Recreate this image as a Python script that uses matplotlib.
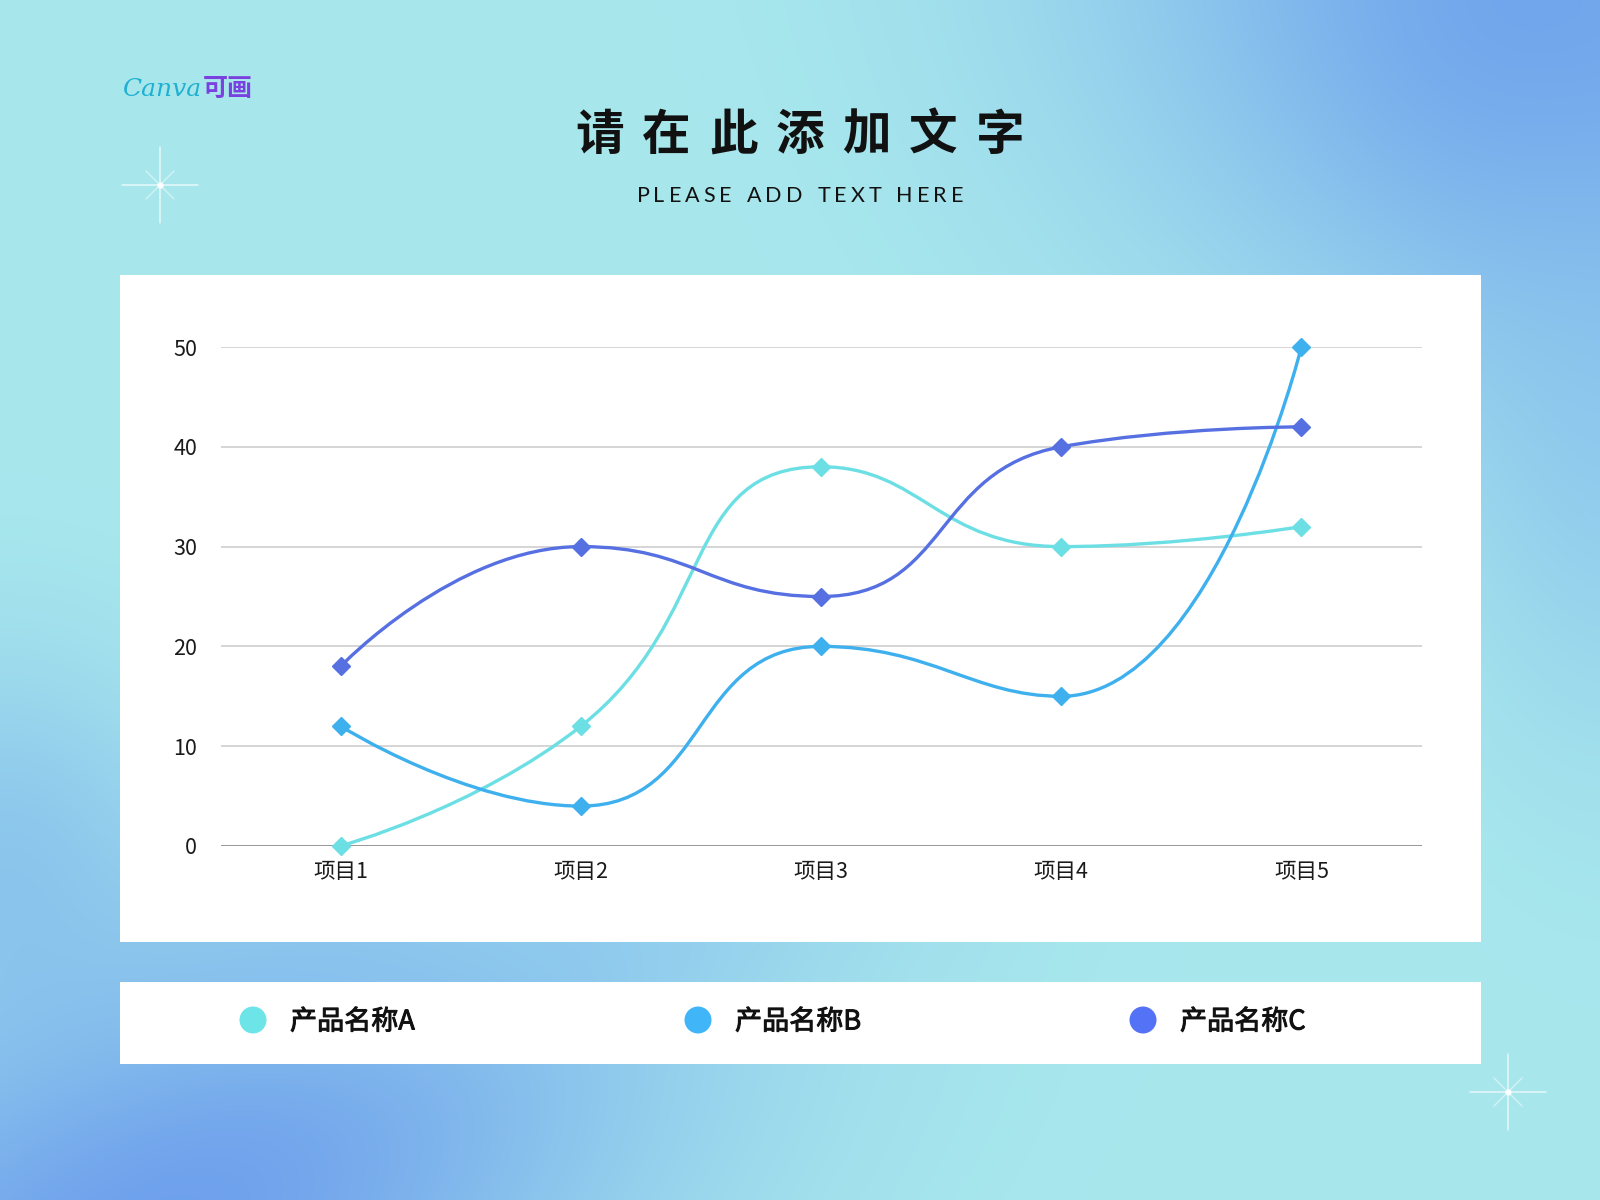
import numpy as np
import matplotlib
matplotlib.use("Agg")
import matplotlib.pyplot as plt
import matplotlib.patheffects as pe
from matplotlib.path import Path
from matplotlib.patches import PathPatch, Rectangle, Circle

# ---------------- data ----------------
categories = ["项目1", "项目2", "项目3", "项目4", "项目5"]
series_names = ["产品名称A", "产品名称B", "产品名称C"]
values_a = [0, 12, 38, 30, 32]
values_b = [12, 4, 20, 15, 50]
values_c = [18, 30, 25, 40, 42]
y_ticks = [0, 10, 20, 30, 40, 50]
title_text = "请在此添加文字"
subtitle_text = "PLEASE ADD TEXT HERE"

line_colors = ["#6cdfe4", "#3eb0ee", "#5670e2"]
legend_colors = ["#6ce4e8", "#40b6f8", "#5472f6"]

CJK = ["Noto Sans CJK SC", "DejaVu Sans"]
plt.rcParams["font.family"] = CJK

W, H = 1600, 1200
fig = plt.figure(figsize=(16, 12), dpi=100)


def fx(px):
    return px / W


def fy(py):
    return 1 - py / H


# ---------------- background gradient ----------------
yy, xx = np.mgrid[0:H, 0:W].astype(float)
base = np.array([168, 232, 236], float)
img = np.ones((H, W, 3)) * base


def blob(cx, cy, sx, sy, color, strength=1.0, angle=0.0):
    global img
    c, s = np.cos(angle), np.sin(angle)
    dx, dy = xx - cx, yy - cy
    u = dx * c + dy * s
    v = -dx * s + dy * c
    w = strength * np.exp(-0.5 * ((u / sx) ** 2 + (v / sy) ** 2))
    img = img * (1 - w[..., None]) + np.array(color, float) * w[..., None]


blob(1560, 20, 330, 250, (112, 164, 236), 1.0, angle=0.45)
blob(1610, 430, 110, 230, (135, 192, 238), 0.55)
blob(150, 1230, 380, 200, (110, 160, 236), 1.0, angle=-0.45)
blob(0, 870, 120, 150, (128, 184, 236), 0.65)
blob(520, 950, 260, 55, (140, 200, 240), 0.5, angle=-0.2)
img = np.clip(img, 0, 255) / 255.0

ax_bg = fig.add_axes([0, 0, 1, 1], zorder=-10)
ax_bg.imshow(img, extent=[0, W, H, 0], aspect="auto", interpolation="bilinear")
ax_bg.set_xlim(0, W)
ax_bg.set_ylim(H, 0)
ax_bg.axis("off")

# ---------------- white panels ----------------
fig.patches.append(Rectangle((fx(119.5), fy(941.5)), fx(1480.5) - fx(119.5),
                             fy(274.5) - fy(941.5), transform=fig.transFigure,
                             facecolor="white", edgecolor="none", zorder=-5))
fig.patches.append(Rectangle((fx(119.5), fy(1063.5)), fx(1480.5) - fx(119.5),
                             fy(981.5) - fy(1063.5), transform=fig.transFigure,
                             facecolor="white", edgecolor="none", zorder=-5))


# ---------------- sparkles ----------------
def sparkle(cx, cy, L=38, d=14):
    t = fig.transFigure
    kw = dict(transform=t, color="white", solid_capstyle="round")
    fig.add_artist(plt.Line2D([fx(cx), fx(cx)], [fy(cy - L), fy(cy + L)], lw=1.1, alpha=0.7, **kw))
    fig.add_artist(plt.Line2D([fx(cx - L), fx(cx + L)], [fy(cy), fy(cy)], lw=1.1, alpha=0.7, **kw))
    fig.add_artist(plt.Line2D([fx(cx - d), fx(cx + d)], [fy(cy - d), fy(cy + d)], lw=0.9, alpha=0.55, **kw))
    fig.add_artist(plt.Line2D([fx(cx - d), fx(cx + d)], [fy(cy + d), fy(cy - d)], lw=0.9, alpha=0.55, **kw))
    fig.add_artist(plt.Line2D([fx(cx)], [fy(cy)], marker="o", ms=3.5, color="white",
                              transform=t, alpha=0.95))


sparkle(160, 185)
sparkle(1508, 1092)

# ---------------- logo ----------------
fig.text(fx(122), fy(90), "Canva", fontsize=18, color="#1fb0d2", family="DejaVu Serif",
         style="italic", ha="left", va="center")
fig.text(fx(203), fy(89), "可画", fontsize=18, color="#7a40e0", family=CJK,
         ha="left", va="center", weight="bold")

# ---------------- titles ----------------
n = len(title_text)
pitch = 66.8
for i, ch in enumerate(title_text):
    fig.text(fx(800 + (i - (n - 1) / 2) * pitch), fy(135), ch, fontsize=35,
             weight="bold", color="#111111", ha="center", va="center", family=CJK)

renderer = fig.canvas.get_renderer()


def spaced_text(xc, yc, s, track, **kw):
    widths = []
    for ch in s:
        t = fig.text(0, 0, ch if ch != " " else "n", **kw)
        bb = t.get_window_extent(renderer=renderer)
        widths.append(bb.width * (0.6 if ch == " " else 1.0))
        t.remove()
    total = sum(widths) + track * (len(s) - 1)
    x = xc - total / 2
    for ch, w in zip(s, widths):
        if ch != " ":
            fig.text(fx(x), fy(yc), ch, ha="left", va="center", **kw)
        x += w + track


spaced_text(800, 196, subtitle_text, 4.0, fontsize=15.5, color="#111111",
            family=["Lato", "DejaVu Sans"])

# ---------------- chart ----------------
left, right, top, bottom = 220.5, 1421.5, 347, 846
ax = fig.add_axes([fx(left), fy(bottom), fx(right) - fx(left), fy(top) - fy(bottom)])
ax.set_facecolor("none")
ax.set_xlim(-0.5, len(categories) - 0.5)
ax.set_ylim(0, 50)
for s in ax.spines.values():
    s.set_visible(False)
ax.set_yticks(y_ticks)
ax.set_xticks(range(len(categories)))
ax.set_xticklabels(categories)
ax.tick_params(axis="both", length=0, labelsize=15.5, labelcolor="#1a1a1a")
ax.tick_params(axis="y", pad=17)
ax.tick_params(axis="x", pad=11)
for t in y_ticks:
    if t == 0:
        ax.axhline(t, color="#7a7a7a", lw=1.1, zorder=1)
    else:
        ax.axhline(t, color="#cacaca", lw=1.1, zorder=1)


def smooth_path(xs, ys, smooth=0.5):
    pts = ax.transData.transform(np.column_stack([xs, ys]))
    verts = [tuple(pts[0])]
    codes = [Path.MOVETO]
    cp0 = pts[0].copy()
    m = len(pts)
    for k in range(1, m):
        x, y = pts[k]
        px_, py_ = pts[k - 1]
        if k == m - 1:
            cp1 = np.array([x, y])
            ncp0 = None
        else:
            nx, ny = pts[k + 1]
            vx, vy = nx - px_, ny - py_
            l0 = np.hypot(x - px_, y - py_)
            l1 = np.hypot(nx - x, ny - y)
            r = l1 / (l0 + l1)
            ncx = x + vx * smooth * r
            ncy = y + vy * smooth * r
            ncx = min(ncx, max(nx, x)); ncy = min(ncy, max(ny, y))
            ncx = max(ncx, min(nx, x)); ncy = max(ncy, min(ny, y))
            vx, vy = ncx - x, ncy - y
            c1x = x - vx * l0 / l1
            c1y = y - vy * l0 / l1
            c1x = min(c1x, max(px_, x)); c1y = min(c1y, max(py_, y))
            c1x = max(c1x, min(px_, x)); c1y = max(c1y, min(py_, y))
            vx, vy = x - c1x, y - c1y
            ncp0 = np.array([x + vx * l1 / l0, y + vy * l1 / l0])
            cp1 = np.array([c1x, c1y])
        verts += [tuple(cp0), tuple(cp1), (x, y)]
        codes += [Path.CURVE4] * 3
        cp0 = ncp0
    verts = ax.transData.inverted().transform(np.array(verts))
    return Path(verts, codes)


xs = np.arange(len(categories))
for vals, col in zip([values_a, values_b, values_c], line_colors):
    p = smooth_path(xs, vals)
    ax.add_patch(PathPatch(p, facecolor="none", edgecolor=col, lw=2.4, zorder=3,
                           clip_on=False, capstyle="round", joinstyle="round"))
    ax.plot(xs, vals, linestyle="none", marker="D", ms=9.5, color=col, mec=col,
            zorder=4, clip_on=False)

# ---------------- legend ----------------
legend_x = [253, 698, 1143]
for name, col, lx in zip(series_names, legend_colors, legend_x):
    fig.patches.append(Circle((lx / fig.dpi, (H - 1020) / fig.dpi), 13.5 / fig.dpi,
                              transform=fig.dpi_scale_trans, facecolor=col,
                              edgecolor="none"))
    fig.text(fx(lx + 37), fy(1022), name, fontsize=19.5, color="#111111",
             ha="left", va="center", family=CJK,
             path_effects=[pe.withStroke(linewidth=0.7, foreground="#111111")])

fig.savefig("out.png", dpi=100)
